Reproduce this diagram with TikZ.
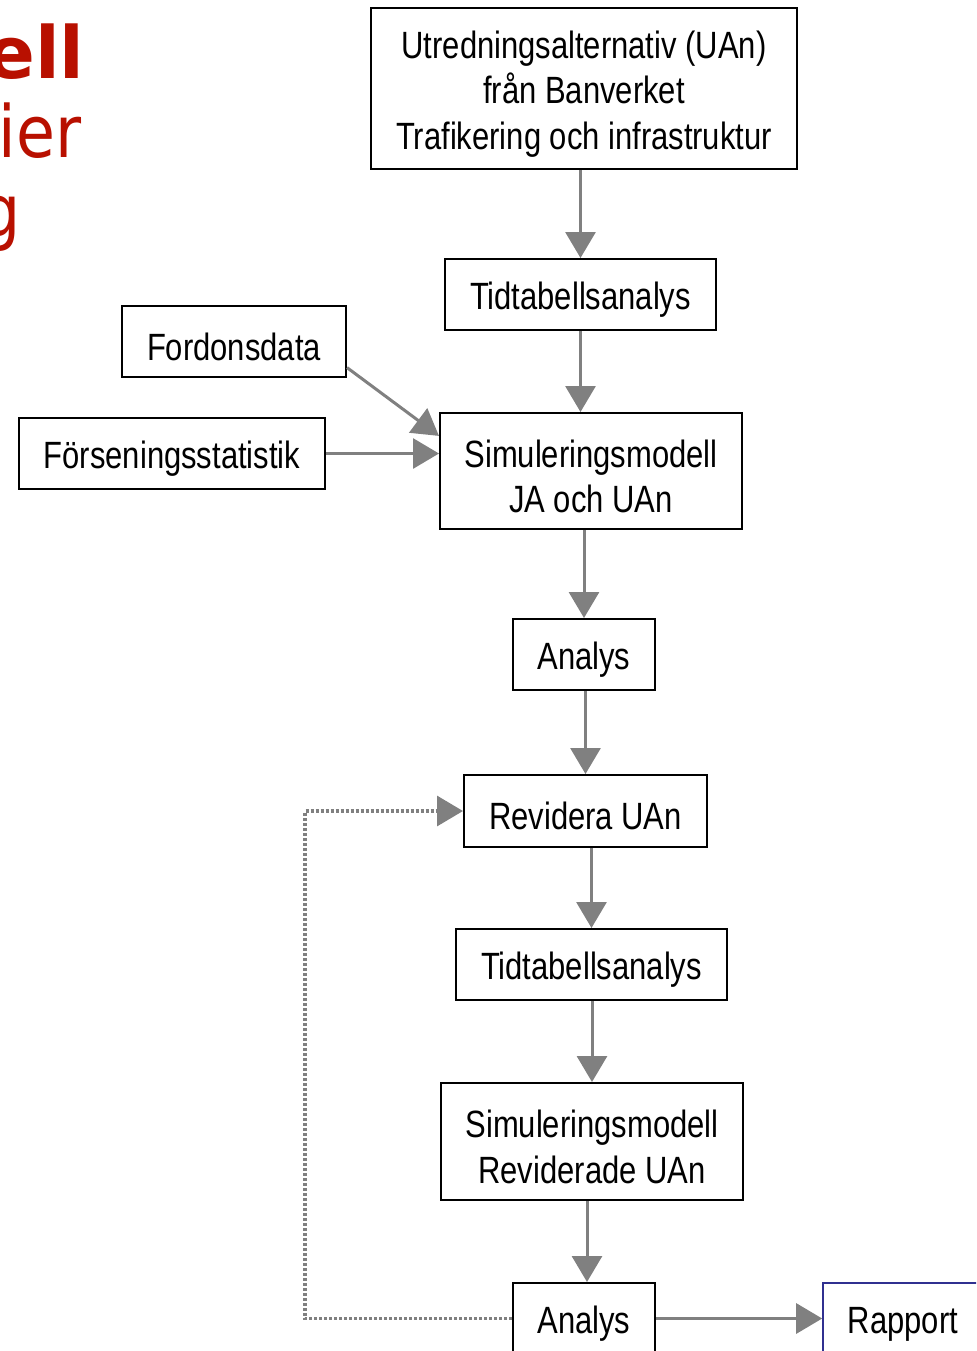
\documentclass[tikz,border=0pt]{standalone}
\usepackage{fontspec}
\setmainfont{Liberation Sans}[FakeStretch=0.815]
\newfontfamily\titlefont{DejaVu Sans}[FakeStretch=0.88]
\newfontfamily\titlebold{DejaVu Sans Bold}
\usetikzlibrary{arrows.meta}
\definecolor{titlered}{HTML}{B81000}
\definecolor{flowgray}{HTML}{808080}
\definecolor{rapblue}{HTML}{303090}
\newcommand\topstrut{\rule{0pt}{19pt}}
\begin{document}
\begin{tikzpicture}[x=0.5pt,y=-0.5pt,
  every node/.style={font=\fontsize{19}{22.75}\selectfont},
  box/.style={draw=black,line width=1pt,inner sep=0pt,align=center,
    execute at begin node={\topstrut}},
  flow/.style={draw=flowgray,line width=1.5pt,-{Triangle[length=13pt,width=15pt]}},
  back/.style={flow,line width=1.6pt,dash pattern=on 1.5pt off 1pt},
  title/.style={text=titlered,anchor=base east,inner sep=0pt,font=\titlefont\fontsize{36}{40}\selectfont}]
\useasboundingbox (0,0) rectangle (976,1351);
\clip (0,0) rectangle (976,1351);
\node[title,font=\titlebold\fontsize{36}{40}\selectfont] (t1) at (85,78) {ell};
\node[title] (t2) at (82,157) {ier};
\node[title] (t3) at (21,236) {g};
\node[box,minimum width=213pt,minimum height=80.5pt] (utred) at (584,88.5) {\topstrut Utredningsalternativ (UAn)\\från Banverket\\Trafikering och infrastruktur};
\node[box,minimum width=135.5pt,minimum height=35.5pt] (tid1) at (580.5,294.5) {Tidtabellsanalys};
\node[box,minimum width=112pt,minimum height=35.5pt] (fordon) at (234,341.5) {Fordonsdata};
\node[box,minimum width=153pt,minimum height=35.5pt] (forsen) at (172,453.5) {Förseningsstatistik};
\node[box,minimum width=151pt,minimum height=58pt] (sim1) at (591,471) {\topstrut Simuleringsmodell\\JA och UAn};
\node[box,minimum width=71pt,minimum height=35.5pt] (analys1) at (584,654.5) {Analys};
\node[box,minimum width=121.5pt,minimum height=36pt] (revid) at (585.5,811) {Revidera UAn};
\node[box,minimum width=135.5pt,minimum height=35.5pt] (tid2) at (591.5,964.5) {Tidtabellsanalys};
\node[box,minimum width=151pt,minimum height=58.5pt] (sim2) at (592,1141.5) {\topstrut Simuleringsmodell\\Reviderade UAn};
\node[box,minimum width=71pt,minimum height=35.5pt] (analys2) at (584,1318.5) {Analys};
\node[box,draw=rapblue,line width=0.8pt,minimum width=80pt,minimum height=35.5pt] (rapport) at (903,1318.5) {Rapport};
\coordinate (ret) at (305,1318.5);
\draw[flow] (tid1.north |- utred.south) -- (tid1.north);
\draw[flow] (tid1.south) -- (tid1.south |- sim1.north);
\draw[flow] (fordon.-13) -- (sim1.167);
\draw[flow] (forsen.east) -- (forsen.east -| sim1.west);
\draw[flow] (analys1.north |- sim1.south) -- (analys1.north);
\draw[flow] (revid.north |- analys1.south) -- (revid.north);
\draw[flow] (tid2.north |- revid.south) -- (tid2.north);
\draw[flow] (sim2.north |- tid2.south) -- (sim2.north);
\draw[flow] ([xshift=1.5pt]analys2.north |- sim2.south) -- ([xshift=1.5pt]analys2.north);
\draw[flow] (analys2.east) -- (rapport.west);
\draw[back] (analys2.west) -- (ret) |- (revid.west);
\end{tikzpicture}
\end{document}
